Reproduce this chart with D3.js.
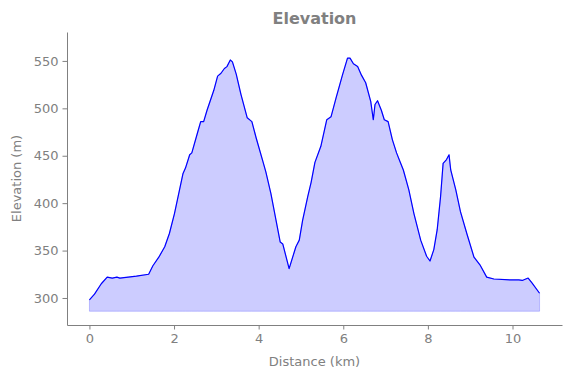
<!DOCTYPE html>
<html>
<head>
<meta charset="utf-8">
<script src="https://cdn.jsdelivr.net/npm/d3@7"></script>
<style>
  body { margin: 0; background: #fff; }
  svg text { font-family: "DejaVu Sans", sans-serif; fill: #808080; }
</style>
</head>
<body>
<svg id="chart" width="571" height="378"></svg>
<script>
// distance along the route (km) and elevation (m)
const distKm = [0, 0.12, 0.28, 0.42, 0.54, 0.65, 0.72, 1.11, 1.40, 1.50, 1.64, 1.78, 1.89, 2.01,
  2.21, 2.27, 2.37, 2.42, 2.56, 2.63, 2.70, 2.78, 2.94, 3.03, 3.11, 3.19, 3.25, 3.33, 3.38,
  3.47, 3.58, 3.73, 3.84, 3.94, 4.10, 4.17, 4.29, 4.41, 4.51, 4.57, 4.72, 4.88, 4.96, 5.04,
  5.16, 5.24, 5.33, 5.47, 5.61, 5.71, 5.83, 5.98, 6.10, 6.16, 6.24, 6.34, 6.43, 6.53, 6.65,
  6.71, 6.75, 6.81, 6.90, 6.97, 7.06, 7.16, 7.26, 7.34, 7.42, 7.55, 7.67, 7.83, 7.97, 8.05,
  8.14, 8.22, 8.30, 8.36, 8.44, 8.50, 8.54, 8.66, 8.77, 8.92, 9.09, 9.23, 9.39, 9.56, 9.95,
  10.15, 10.23, 10.37, 10.46, 10.64];
const elevM = [298, 304, 315, 322, 321, 322, 321, 323, 325, 334, 343, 354, 368, 389,
  431, 437, 451, 453, 475, 486, 486, 498, 519, 534, 537, 542, 544, 551, 549,
  536, 515, 490, 486, 469, 444, 433, 410, 382, 359, 357, 331, 354, 361, 382,
  407, 422, 443, 460, 488, 491, 511, 535, 553, 553, 547, 544, 535, 527, 507,
  488, 504, 508, 498, 488, 486, 467, 453, 444, 435, 414, 389, 361, 344, 339,
  351, 372, 407, 442, 446, 451, 435, 414, 391, 368, 343, 335, 322, 320, 319,
  319, 318.5, 321, 316, 305];
const xTicks = [0, 2, 4, 6, 8, 10];
const yTicks = [300, 350, 400, 450, 500, 550];

const data = distKm.map((d, i) => ({ d: d, e: elevM[i] }));
const fillBase = d3.min(elevM) - 12;

const svg = d3.select("#chart");
const margin = { left: 67, right: 9, top: 32, bottom: 53 };
const W = 571, H = 378;

const x = d3.scaleLinear()
  .domain([-0.53, 11.17])
  .range([margin.left, W - margin.right]);
const y = d3.scaleLinear()
  .domain([271.5, 580.5])
  .range([H - margin.bottom, margin.top]);

// filled area under the profile
const area = d3.area()
  .x(p => x(p.d))
  .y0(y(fillBase))
  .y1(p => y(p.e));
svg.append("path")
  .datum(data)
  .attr("d", area)
  .attr("fill", "#0000ff")
  .attr("fill-opacity", 0.2)
  .attr("stroke", "#0000ff")
  .attr("stroke-opacity", 0.2)
  .attr("stroke-width", 1);

const line = d3.line()
  .x(p => x(p.d))
  .y(p => y(p.e));
svg.append("path")
  .datum(data)
  .attr("d", line)
  .attr("fill", "none")
  .attr("stroke", "#0000ff")
  .attr("stroke-width", 1.2)
  .attr("stroke-linejoin", "round");

// axes
const xAxis = d3.axisBottom(x).tickValues(xTicks).tickSize(4.5).tickPadding(4).tickSizeOuter(0);
const yAxis = d3.axisLeft(y).tickValues(yTicks).tickSize(4.5).tickPadding(4).tickSizeOuter(0);

const gx = svg.append("g")
  .attr("transform", "translate(0," + (H - margin.bottom) + ")")
  .call(xAxis);
const gy = svg.append("g")
  .attr("transform", "translate(" + margin.left + ",0)")
  .call(yAxis);

[gx, gy].forEach(g => {
  g.select(".domain").attr("stroke", "#808080").attr("stroke-width", 1);
  g.selectAll(".tick line").attr("stroke", "#808080");
  g.selectAll(".tick text")
    .style("font-family", "DejaVu Sans, sans-serif")
    .style("font-size", "13px")
    .attr("fill", "#808080");
});

// labels
svg.append("text")
  .attr("x", (margin.left + W - margin.right) / 2)
  .attr("y", 24)
  .attr("text-anchor", "middle")
  .style("font-size", "16px")
  .style("font-weight", "bold")
  .text("Elevation");

svg.append("text")
  .attr("x", (margin.left + W - margin.right) / 2)
  .attr("y", 366)
  .attr("text-anchor", "middle")
  .style("font-size", "13px")
  .text("Distance (km)");

svg.append("text")
  .attr("transform", "translate(21," + ((margin.top + H - margin.bottom) / 2) + ") rotate(-90)")
  .attr("text-anchor", "middle")
  .style("font-size", "13px")
  .text("Elevation (m)");
</script>
</body>
</html>
